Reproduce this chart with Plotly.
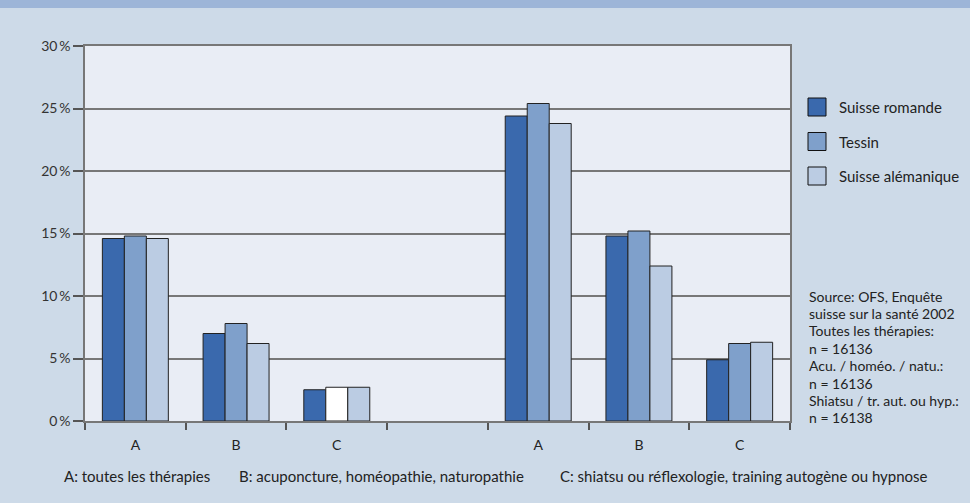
import plotly.graph_objects as go

# Data: 7 slots (A, B, C, gap, A, B, C)
slot_labels = ["A", "B", "C", "", "A", "B", "C"]
regions = ["Suisse romande", "Tessin", "Suisse alémanique"]
romande = [14.6, 7.0, 2.5, None, 24.4, 14.8, 4.9]
tessin = [14.8, 7.8, 2.7, None, 25.4, 15.2, 6.2]
alemanique = [14.6, 6.2, 2.7, None, 23.8, 12.4, 6.3]
y_ticks = [0, 5, 10, 15, 20, 25, 30]

colors = ["#3A69AD", "#7FA0CB", "#BBCCE3"]
x_pos = list(range(len(slot_labels)))

# plot area in pixels: x 85..790, y 46..421
L, R, T, B = 85, 790, 46, 421
def px(x):
    return (x - L) / (R - L)
def py(y):
    return (B - y) / (B - T)

fig = go.Figure()
for i, (name, vals) in enumerate(zip(regions, [romande, tessin, alemanique])):
    bar_colors = [colors[i]] * len(vals)
    if name == "Tessin":
        bar_colors[2] = "#FFFFFF"  # drawn white in the original
    fig.add_trace(go.Bar(
        x=x_pos, y=vals, name=name, showlegend=False,
        marker=dict(color=bar_colors, line=dict(color="#222222", width=1)),
    ))

fig.update_layout(
    width=970, height=503,
    margin=dict(l=L, r=970 - R, t=T, b=503 - B, autoexpand=False),
    paper_bgcolor="#CDDAE8",
    plot_bgcolor="#E9EDF5",
    barmode="group", bargap=0.345, bargroupgap=0,
    font=dict(family="Lato, Noto Sans, sans-serif", size=13, color="#222222"),
    xaxis=dict(range=[-0.5, 6.5], tickvals=x_pos, ticktext=slot_labels,
               ticks="", showgrid=False, showline=True, mirror=True,
               linecolor="#777777", linewidth=1.5, zeroline=False,
               ticklabelstandoff=10,
               minor=dict(ticks="outside", tick0=0.5, dtick=1, ticklen=7,
                          tickcolor="#555555", tickwidth=1.5, showgrid=False),
               tickfont=dict(size=14)),
    yaxis=dict(range=[0, 30], tickvals=y_ticks,
               ticktext=[f"{v}\u2009%" for v in y_ticks],
               ticks="outside", ticklen=10, tickcolor="#555555", tickwidth=1.5,
               showgrid=True, gridcolor="#777777", gridwidth=1.5,
               showline=True, mirror=True, linecolor="#777777", linewidth=1.5,
               zeroline=False, tickfont=dict(size=14, color="#333333")),
)

# top band
fig.add_shape(type="rect", xref="paper", yref="paper", x0=-0.2, x1=1.3,
              y0=py(8), y1=py(-5), fillcolor="#9DB5D8", line=dict(width=0),
              layer="below")

# legend (drawn by hand for the large swatches)
for i, name in enumerate(regions):
    yc = 107 + 34.5 * i
    fig.add_shape(type="rect", xref="paper", yref="paper",
                  x0=px(808), x1=px(826), y0=py(yc + 9), y1=py(yc - 9),
                  fillcolor=colors[i], line=dict(color="#111111", width=1))
    fig.add_annotation(text=name, xref="paper", yref="paper", x=px(837),
                       y=py(yc), xanchor="left", yanchor="middle",
                       showarrow=False, font=dict(size=15, color="#222222"))

source_lines = ["Source: OFS, Enquête", "suisse sur la santé 2002",
                "Toutes les thérapies:", "n = 16136", "Acu. / homéo. / natu.:",
                "n = 16136", "Shiatsu / tr. aut. ou hyp.:", "n = 16138"]
for i, line in enumerate(source_lines):
    fig.add_annotation(text=line, xref="paper", yref="paper", x=px(807),
                       y=py(296 + 17.4 * i), xanchor="left", yanchor="middle",
                       showarrow=False, font=dict(size=14, color="#222222"))

notes = [("A: toutes les thérapies", 62),
         ("B: acuponcture, homéopathie, naturopathie", 237),
         ("C: shiatsu ou réflexologie, training autogène ou hypnose", 558)]
for txt, x in notes:
    fig.add_annotation(text=txt, xref="paper", yref="paper",
                       x=px(x), y=py(476), xanchor="left",
                       yanchor="middle", showarrow=False,
                       font=dict(size=15, color="#222222"))

fig.write_html("out.html", config={"displayModeBar": False},
               post_script="document.body.style.margin='0px';")
